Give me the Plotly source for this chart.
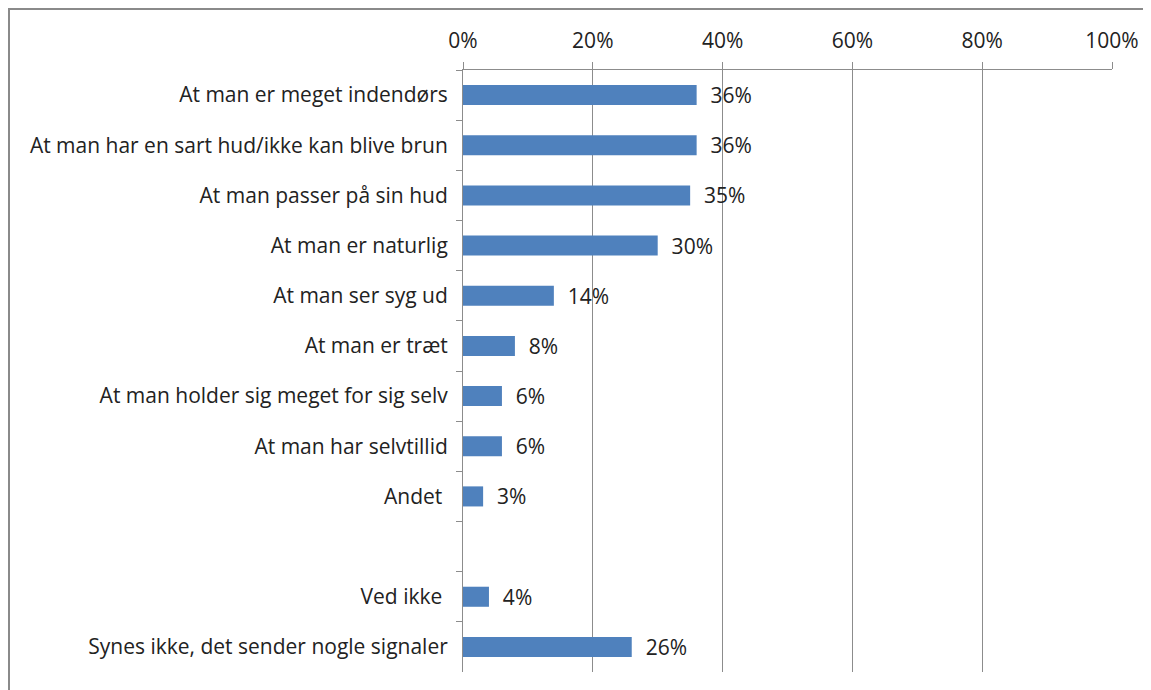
import plotly.graph_objects as go

categories = [
    "At man er meget indendørs",
    "At man har en sart hud/ikke kan blive brun",
    "At man passer på sin hud",
    "At man er naturlig",
    "At man ser syg ud",
    "At man er træt",
    "At man holder sig meget for sig selv",
    "At man har selvtillid",
    "Andet ",
    "  ",
    "Ved ikke ",
    "Synes ikke, det sender nogle signaler",
]
values = [0.36, 0.36, 0.35, 0.30, 0.14, 0.08, 0.06, 0.06, 0.031, None, 0.04, 0.26]
labels = ["36%", "36%", "35%", "30%", "14%", "8%", "6%", "6%", "3%", "", "4%", "26%"]
x_ticks = [0, 0.2, 0.4, 0.6, 0.8, 1.0]
x_ticklabels = ["0%", "20%", "40%", "60%", "80%", "100%"]

FONT = "'Open Sans', Lato, sans-serif"
FS = 21

# page body has an 8px margin; plot area target: x 463..1112, y 70..672 (page px)
OFF = 8
W, H = 1151 - OFF, 690 - OFF
L, T = 463 - OFF, 70 - OFF
PW, PH = 649, 602


def px(xp):
    return (xp - 463) / PW


def py(yp):
    return (672 - yp) / PH


fig = go.Figure(
    go.Bar(
        x=values,
        y=categories,
        orientation="h",
        width=0.4,
        marker=dict(color="#4F81BD", line=dict(color="#4F81BD", width=0)),
        text=["  " + t if t else "" for t in labels],
        textposition="outside",
        constraintext="none",
        textfont=dict(family=FONT, size=FS, color="#222222"),
        cliponaxis=False,
        hoverinfo="skip",
    )
)

fig.update_layout(
    width=W,
    height=H,
    margin=dict(l=L, r=W - L - PW, t=T, b=H - T - PH, pad=0, autoexpand=False),
    paper_bgcolor="white",
    plot_bgcolor="white",
    showlegend=False,
    font=dict(family=FONT, size=FS, color="#222222"),
    xaxis=dict(
        side="top",
        range=[0, 1],
        tickvals=x_ticks,
        ticktext=x_ticklabels,
        showgrid=True,
        gridcolor="#8c8c8c",
        gridwidth=1,
        showline=True,
        linecolor="#8c8c8c",
        linewidth=1,
        ticks="outside",
        ticklen=7,
        tickcolor="#8c8c8c",
        tickfont=dict(family=FONT, size=FS, color="#222222"),
        ticklabelstandoff=6,
        zeroline=False,
        automargin=False,
        fixedrange=True,
    ),
    yaxis=dict(
        categoryorder="array",
        categoryarray=categories,
        autorange="reversed",
        showline=True,
        linecolor="#8c8c8c",
        linewidth=1,
        ticks="outside",
        tickson="boundaries",
        ticklen=6,
        tickcolor="#8c8c8c",
        showgrid=False,
        tickfont=dict(family=FONT, size=FS, color="#222222"),
        ticklabelstandoff=10,
        automargin=False,
        fixedrange=True,
    ),
    shapes=[
        dict(type="line", xref="paper", yref="paper",
             x0=px(8), x1=px(1300), y0=py(9), y1=py(9),
             line=dict(color="#8a8a8a", width=2), layer="below"),
        dict(type="line", xref="paper", yref="paper",
             x0=px(9), x1=px(9), y0=py(8), y1=py(760),
             line=dict(color="#8a8a8a", width=2), layer="below"),
    ],
)

fig.write_html("out.html")
